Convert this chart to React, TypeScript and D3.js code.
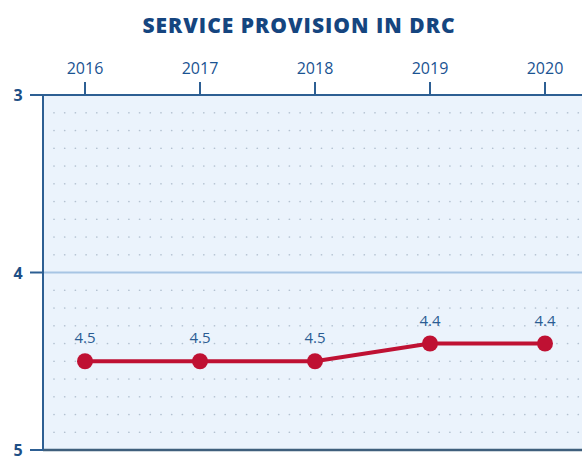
import { useEffect, useRef } from 'react';
import * as d3 from 'd3';

const years = ['2016', '2017', '2018', '2019', '2020'];
const values = [4.5, 4.5, 4.5, 4.4, 4.4];
const valueLabels = ['4.5', '4.5', '4.5', '4.4', '4.4'];
const yTicks = [3, 4, 5];

export default function App() {
    const ref = useRef<SVGSVGElement | null>(null);

    useEffect(() => {
        if (!ref.current) return;
        const width = 582;
        const height = 457;
        const left = 43;
        const top = 95;
        const bottom = 450;
        const right = 600;

        const x = d3.scalePoint().domain(years).range([85, 545]);
        const y = d3.scaleLinear().domain([3, 5]).range([top, bottom]);

        const svg = d3.select(ref.current);
        svg.selectAll('*').remove();
        svg.attr('width', width).attr('height', height).attr('viewBox', `0 0 ${width} ${height}`);

        const font = "'Open Sans', 'DejaVu Sans', sans-serif";

        svg.append('rect')
            .attr('x', left)
            .attr('y', top)
            .attr('width', right - left)
            .attr('height', bottom - top)
            .attr('fill', '#ebf3fc');

        // dotted grid
        const dots = svg.append('g').attr('fill', '#b3c1d0');
        const rows = d3.range(3.1, 5, 0.1);
        const cols = d3.range(left + 11, right, 10.7);
        rows.forEach(r => {
            if (Math.abs(r - 4) < 0.01) return;
            cols.forEach(c => {
                dots.append('circle').attr('cx', c).attr('cy', y(r)).attr('r', 0.85);
            });
        });

        // reference line at 4
        svg.append('line')
            .attr('x1', left).attr('x2', right)
            .attr('y1', y(4)).attr('y2', y(4))
            .attr('stroke', '#a7c5e4').attr('stroke-width', 2);

        // top axis
        svg.append('line')
            .attr('x1', left).attr('x2', right)
            .attr('y1', top).attr('y2', top)
            .attr('stroke', '#2d5f93').attr('stroke-width', 2);
        svg.append('g')
            .selectAll('line')
            .data(years)
            .join('line')
            .attr('x1', d => x(d)!).attr('x2', d => x(d)!)
            .attr('y1', top - 13).attr('y2', top)
            .attr('stroke', '#2d5f93').attr('stroke-width', 2);
        svg.append('g')
            .selectAll('text')
            .data(years)
            .join('text')
            .attr('x', d => x(d)!)
            .attr('y', 74)
            .attr('text-anchor', 'middle')
            .attr('font-family', font)
            .attr('font-size', 16)
            .attr('fill', '#1a5392')
            .text(d => d);

        // bottom axis
        svg.append('line')
            .attr('x1', left).attr('x2', right)
            .attr('y1', bottom).attr('y2', bottom)
            .attr('stroke', '#3f5f7c').attr('stroke-width', 2.5);

        // left axis
        svg.append('line')
            .attr('x1', left).attr('x2', left)
            .attr('y1', top).attr('y2', bottom)
            .attr('stroke', '#2d5f93').attr('stroke-width', 2);
        svg.append('g')
            .selectAll('line')
            .data(yTicks)
            .join('line')
            .attr('x1', 30).attr('x2', left)
            .attr('y1', d => y(d)).attr('y2', d => y(d))
            .attr('stroke', '#2d5f93').attr('stroke-width', 2);
        svg.append('g')
            .selectAll('text')
            .data(yTicks)
            .join('text')
            .attr('x', 18)
            .attr('y', d => y(d) + 6)
            .attr('text-anchor', 'middle')
            .attr('font-family', font)
            .attr('font-weight', 700)
            .attr('font-size', 16)
            .attr('fill', '#1d4f86')
            .text(d => d);

        // line
        const line = d3.line<number>()
            .x((_, i) => x(years[i])!)
            .y(d => y(d));
        svg.append('path')
            .datum(values)
            .attr('d', line)
            .attr('fill', 'none')
            .attr('stroke', '#bf1133')
            .attr('stroke-width', 4);
        svg.append('g')
            .selectAll('circle')
            .data(values)
            .join('circle')
            .attr('cx', (_, i) => x(years[i])!)
            .attr('cy', d => y(d))
            .attr('r', 8)
            .attr('fill', '#bf1133');
        svg.append('g')
            .selectAll('text')
            .data(values)
            .join('text')
            .attr('x', (_, i) => x(years[i])!)
            .attr('y', d => y(d) - 18)
            .attr('text-anchor', 'middle')
            .attr('font-family', font)
            .attr('font-size', 15)
            .attr('fill', '#2a5c93')
            .text((_, i) => valueLabels[i]);

        // title
        svg.append('text')
            .attr('x', 299)
            .attr('y', 33)
            .attr('text-anchor', 'middle')
            .attr('font-family', font)
            .attr('font-weight', 800)
            .attr('font-size', 21)
            .attr('letter-spacing', 1)
            .attr('fill', '#15457f')
            .text('SERVICE PROVISION IN DRC');
    }, []);

    return (
        <div style={{ position: 'absolute', left: 0, top: 0 }}>
            <svg ref={ref} style={{ display: 'block' }} />
        </div>
    );
}
